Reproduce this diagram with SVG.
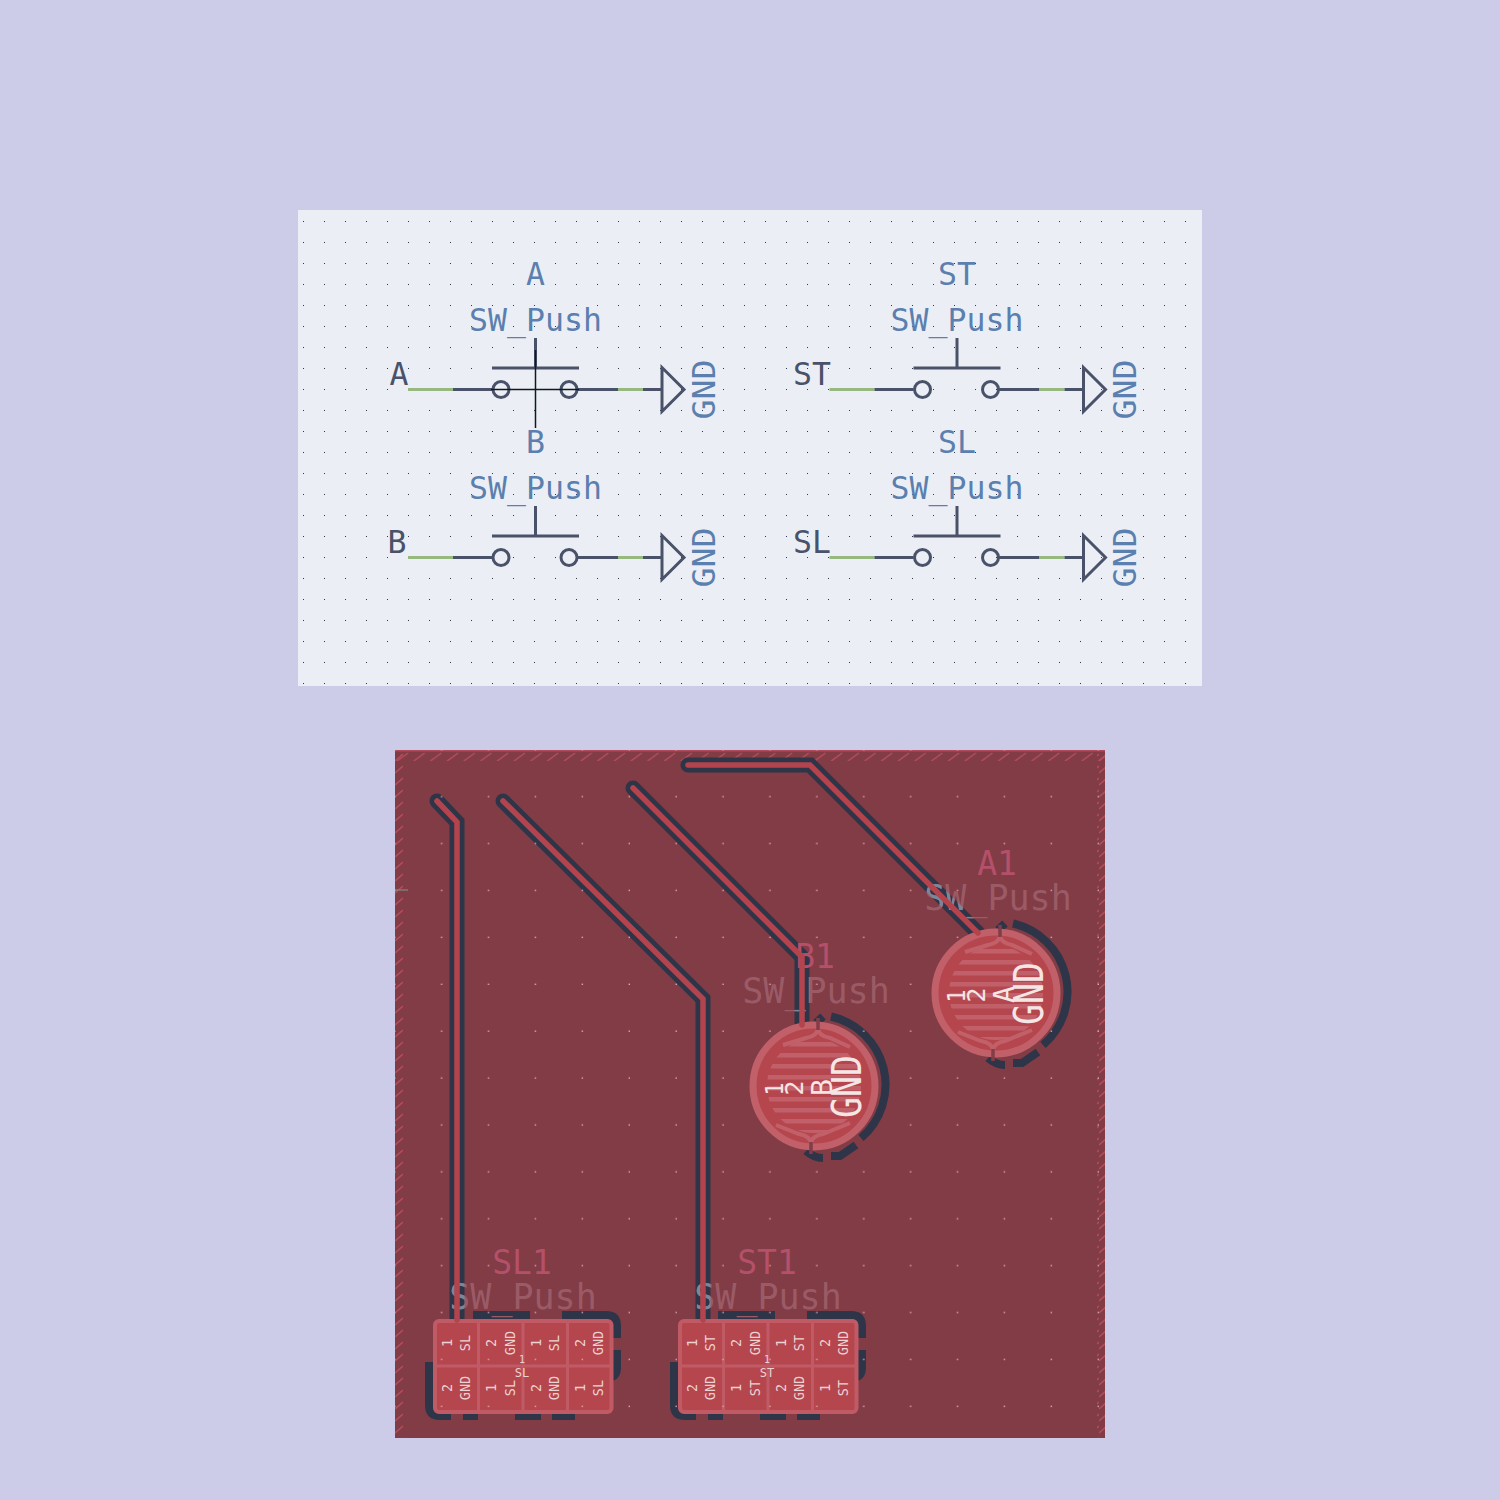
<svg xmlns="http://www.w3.org/2000/svg" width="1500" height="1500" viewBox="0 0 1500 1500">
<style>
text{font-family:"DejaVu Sans Mono","Liberation Mono",monospace;text-anchor:middle}
.val{fill:#5b7fae;font-size:31.5px}
.lbl{fill:#4a5269;font-size:31.5px}
.w{fill:none;stroke:#4a5269;stroke-width:3}
.g{fill:none;stroke:#97b97f;stroke-width:3}
.x{fill:none;stroke:#111820;stroke-width:1.5}
.clr{fill:none;stroke:#2e3548;stroke-linejoin:miter}
.trk{fill:none;stroke:#b3444e;stroke-width:5.5;stroke-linecap:round;stroke-linejoin:miter}
.ref{fill:#b4506a;font-size:33px}
.silk{font-size:35px}
.pad{fill:#b5464e;stroke:#c05a64;stroke-width:4}
.pt{fill:#ecd2d2;font-size:13.5px}
.big{fill:#f5e6e6}
.edge{fill:none;stroke:#2e3548;stroke-width:8}
</style>
<defs>
<pattern id="grid" x="303" y="221" width="21" height="21" patternUnits="userSpaceOnUse"><rect width="1" height="1" fill="#30384a"/></pattern>
<pattern id="pdots" x="395.500" y="750.500" width="46.900" height="46.900" patternUnits="userSpaceOnUse"><rect x="45.500" y="45.500" width="1.400" height="1.400" fill="#e0a5b2"/></pattern>
<pattern id="hatchT" x="395" y="751" width="16.700" height="10" patternUnits="userSpaceOnUse"><path d="M2 10L13 2" stroke="#b54c5a" stroke-width="1.500" fill="none"/></pattern>
<pattern id="hatchS" x="395" y="751" width="8" height="12" patternUnits="userSpaceOnUse"><path d="M0 10L8 3" stroke="#b54c5a" stroke-width="1.500" fill="none"/></pattern>
<pattern id="stripes" x="0" y="3" width="10" height="11" patternUnits="userSpaceOnUse"><rect width="10" height="4.500" fill="#c2606a"/></pattern>
<mask id="onDark" maskUnits="userSpaceOnUse" x="395" y="750" width="710" height="688"><path fill="none" stroke="#fff" stroke-width="15" stroke-linecap="round" d="M437 801L457 822V1320M503 801L703 999V1320M633 788L802 957V1025M688 765H810L978 933"/></mask>
<g id="sw">
<path class="g" d="M0 0H45"/><path class="w" d="M45 0H84"/><circle class="w" cx="93" cy="0" r="8"/><circle class="w" cx="161" cy="0" r="8"/><path class="w" d="M169 0H210"/><path class="g" d="M210 0H235"/><path class="w" d="M235 0H254"/>
<path class="w" d="M254 -22V22L276 0Z"/><path class="w" d="M84 -21.500H171M127.500 -21.500V-51.500"/>
</g>
<g id="disc">
<circle cx="996" cy="993" r="61" fill="#b5464e" stroke="#c2606a" stroke-width="7"/>
<circle cx="996" cy="993" r="47" fill="url(#stripes)"/>
<path d="M1000 936Q999 943 988 945L965 952M1000 936Q1001 943 1012 945L1032 954M993 1050Q992 1043 981 1041L958 1032M993 1050Q994 1043 1005 1041L1032 1030" fill="none" stroke="#c2606a" stroke-width="4"/>
<path d="M1000 925V937M993 1049V1061" stroke="#823d47" stroke-width="3.500"/>
<text class="big" transform="translate(965 996) rotate(-90)" font-size="25" textLength="13" lengthAdjust="spacingAndGlyphs">1</text>
<text class="big" transform="translate(985 995) rotate(-90)" font-size="25" textLength="15" lengthAdjust="spacingAndGlyphs">2</text>
</g>
<g id="discClr">
<path class="edge" d="M1013 923.500A70 70 0 0 1 1043 1045M1005 923.500L998 930M988 1058Q996 1065 1005 1065M1013 1063H1022L1038 1052"/>
</g>
<g id="array">
<path class="edge" d="M473 1315H530M562 1315H606Q617 1315 617 1326V1338M617 1350V1368Q617 1375 612 1377M429 1362V1405Q429 1416 440 1416H451M463 1416H478M515 1416H541M552 1416H575"/>
<rect class="pad" x="435" y="1321" width="176.500" height="91" rx="4"/>
<path d="M478.500 1320V1412M523 1320V1412M567.500 1320V1412M434 1366H612" stroke="#c05a64" stroke-width="3"/>
</g>
</defs>

<rect id="bg" width="1500" height="1500" fill="#ccccE8"/>
<g id="schematic">
<rect x="298" y="210" width="904" height="476" fill="#ebeff5"/>
<rect x="298" y="210" width="904" height="476" fill="url(#grid)"/>
<g id="sw-A">
<use href="#sw" x="408" y="389.500"/>
<path class="x" d="M491 389.500H579M535.500 350V428"/>
<text class="val" x="535.500" y="285">A</text>
<text class="val" x="535.500" y="331">SW_Push</text>
<text class="lbl" x="399" y="385">A</text>
<text class="val" transform="translate(715 389.500) rotate(-90)" textLength="60" lengthAdjust="spacingAndGlyphs">GND</text>
</g>
<g id="sw-ST">
<use href="#sw" x="829.500" y="389.500"/>
<text class="val" x="957" y="285">ST</text>
<text class="val" x="957" y="331">SW_Push</text>
<text class="lbl" x="812" y="385">ST</text>
<text class="val" transform="translate(1136 389.500) rotate(-90)" textLength="60" lengthAdjust="spacingAndGlyphs">GND</text>
</g>
<g id="sw-B">
<use href="#sw" x="408" y="557.500"/>
<text class="val" x="535.500" y="453">B</text>
<text class="val" x="535.500" y="499">SW_Push</text>
<text class="lbl" x="397" y="553">B</text>
<text class="val" transform="translate(715 557.500) rotate(-90)" textLength="60" lengthAdjust="spacingAndGlyphs">GND</text>
</g>
<g id="sw-SL">
<use href="#sw" x="829.500" y="557.500"/>
<text class="val" x="957" y="453">SL</text>
<text class="val" x="957" y="499">SW_Push</text>
<text class="lbl" x="812" y="553">SL</text>
<text class="val" transform="translate(1136 557.500) rotate(-90)" textLength="60" lengthAdjust="spacingAndGlyphs">GND</text>
</g>
</g>

<g id="pcb">
<rect x="395" y="750" width="710" height="688" fill="#813c46"/>
<rect x="395" y="751" width="710" height="10" fill="url(#hatchT)"/>
<rect x="395" y="751" width="8" height="687" fill="url(#hatchS)"/>
<rect x="1097" y="751" width="8" height="687" fill="url(#hatchS)"/>
<rect x="395" y="750" width="710" height="1.500" fill="#b04a58"/>
<path d="M395 890H408" stroke="#7d8a86" stroke-width="1.200"/>

<g id="connectors-clearance">
<path class="clr" stroke-width="15" stroke-linecap="round" d="M437 801L457 822V1320M503 801L703 999V1320M633 788L802 957V1025M688 765H810L978 933"/>
<use href="#discClr"/>
<use href="#discClr" x="-182" y="93"/>
<use href="#array"/>
<use href="#array" x="245"/>
</g>
<rect x="395" y="750" width="710" height="688" fill="url(#pdots)"/>

<g id="A1">
<use href="#disc"/>
<text class="big" transform="translate(1014 994.500) rotate(-90)" font-size="29" textLength="17" lengthAdjust="spacingAndGlyphs">A</text>
<text class="big" transform="translate(1043 993.500) rotate(-90)" font-size="40" textLength="63" lengthAdjust="spacingAndGlyphs">GND</text>
<text class="ref" x="997" y="875">A1</text>
<g fill="#9a5b66"><text id="sA" class="silk" x="998" y="910">SW_Push</text></g>
</g>
<g id="B1">
<use href="#disc" x="-182" y="93"/>
<text class="big" transform="translate(832 1087.500) rotate(-90)" font-size="29" textLength="17" lengthAdjust="spacingAndGlyphs">B</text>
<text class="big" transform="translate(861 1086.500) rotate(-90)" font-size="40" textLength="63" lengthAdjust="spacingAndGlyphs">GND</text>
<text class="ref" x="815" y="968">B1</text>
<g fill="#9a5b66"><text id="sB" class="silk" x="816" y="1003">SW_Push</text></g>
</g>
<g id="SL1">
<text class="ref" x="522" y="1274">SL1</text>
<g fill="#9a5b66"><text id="sSL" class="silk" x="523" y="1309">SW_Push</text></g>
<text class="pt" transform="translate(452 1343) rotate(-90)">1</text><text class="pt" transform="translate(470 1343) rotate(-90)">SL</text>
<text class="pt" transform="translate(496 1343) rotate(-90)">2</text><text class="pt" transform="translate(515 1343) rotate(-90)">GND</text>
<text class="pt" transform="translate(541 1343) rotate(-90)">1</text><text class="pt" transform="translate(559 1343) rotate(-90)">SL</text>
<text class="pt" transform="translate(585 1343) rotate(-90)">2</text><text class="pt" transform="translate(603 1343) rotate(-90)">GND</text>
<text class="pt" transform="translate(452 1388) rotate(-90)">2</text><text class="pt" transform="translate(470 1388) rotate(-90)">GND</text>
<text class="pt" transform="translate(496 1388) rotate(-90)">1</text><text class="pt" transform="translate(515 1388) rotate(-90)">SL</text>
<text class="pt" transform="translate(541 1388) rotate(-90)">2</text><text class="pt" transform="translate(559 1388) rotate(-90)">GND</text>
<text class="pt" transform="translate(585 1388) rotate(-90)">1</text><text class="pt" transform="translate(603 1388) rotate(-90)">SL</text>
<text class="pt" x="522" y="1363" style="font-size:10px">1</text><text class="pt" x="522" y="1377" style="font-size:12px">SL</text>
</g>
<g id="ST1">
<text class="ref" x="767" y="1274">ST1</text>
<g fill="#9a5b66"><text id="sST" class="silk" x="768" y="1309">SW_Push</text></g>
<text class="pt" transform="translate(697 1343) rotate(-90)">1</text><text class="pt" transform="translate(715 1343) rotate(-90)">ST</text>
<text class="pt" transform="translate(741 1343) rotate(-90)">2</text><text class="pt" transform="translate(760 1343) rotate(-90)">GND</text>
<text class="pt" transform="translate(786 1343) rotate(-90)">1</text><text class="pt" transform="translate(804 1343) rotate(-90)">ST</text>
<text class="pt" transform="translate(830 1343) rotate(-90)">2</text><text class="pt" transform="translate(848 1343) rotate(-90)">GND</text>
<text class="pt" transform="translate(697 1388) rotate(-90)">2</text><text class="pt" transform="translate(715 1388) rotate(-90)">GND</text>
<text class="pt" transform="translate(741 1388) rotate(-90)">1</text><text class="pt" transform="translate(760 1388) rotate(-90)">ST</text>
<text class="pt" transform="translate(786 1388) rotate(-90)">2</text><text class="pt" transform="translate(804 1388) rotate(-90)">GND</text>
<text class="pt" transform="translate(830 1388) rotate(-90)">1</text><text class="pt" transform="translate(848 1388) rotate(-90)">ST</text>
<text class="pt" x="767" y="1363" style="font-size:10px">1</text><text class="pt" x="767" y="1377" style="font-size:12px">ST</text>
</g>
<g id="silk-on-clearance" mask="url(#onDark)" fill="#76899c">
<use href="#sA"/><use href="#sB"/><use href="#sSL"/><use href="#sST"/>
</g>
<g id="connectors">
<path class="trk" d="M437 801L457 822V1320M503 801L703 999V1320M633 788L802 957V1025M688 765H810L978 933"/>
</g>
</g>
</svg>
